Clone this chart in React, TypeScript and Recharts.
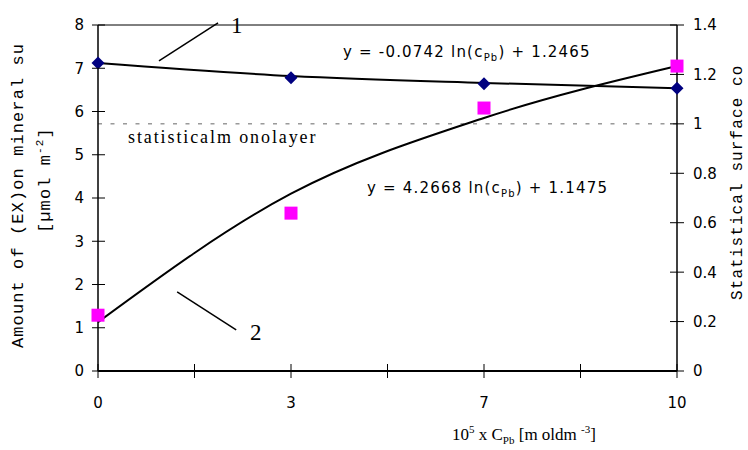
import { LineChart, Line, XAxis, YAxis, ReferenceLine } from 'recharts';

// 10^5 x C_Pb categories
const concentrations = ['0', '3', '7', '10'];
// series 1: Pb amount (diamonds) and its log fit, left axis units
const leadAmount = [7.12, 6.78, 6.64, 6.54];
const leadTrend = [7.12, 6.82, 6.66, 6.54];
// series 2: EX amount (squares) and its log fit
const exAmount = [1.29, 3.65, 6.08, 7.05];
const exTrend = [1.13, 4.1, 5.85, 7.05];

const leftTicks = [0, 1, 2, 3, 4, 5, 6, 7, 8];
const rightTicks = [0, 0.2, 0.4, 0.6, 0.8, 1, 1.2, 1.4];
const minorTicks = [0, 0.5, 1, 1.5, 2, 2.5, 3];
const monolayer = 1;

// pointer strokes for the "1" and "2" labels (category index, left axis value)
const pointer1 = [{ x: 0.316, y: 7.17 }, { x: 0.622, y: 8.05 }];
const pointer2 = [{ x: 0.41, y: 1.83 }, { x: 0.716, y: 0.95 }];

const data = concentrations.map((c, i) => ({
  c,
  idx: i,
  lead: leadAmount[i],
  leadFit: leadTrend[i],
  ex: exAmount[i],
  exFit: exTrend[i],
}));

const sans = 'DejaVu Sans';
const serif = 'Liberation Serif';
const mono = 'Liberation Mono';

const LeftTick = ({ x, y, payload }: any) => (
  <g>
    <line x1={x - 6} x2={x + 7} y1={y} y2={y} stroke="#000" strokeWidth={1} />
    <text x={x - 14} y={y} dy="0.36em" textAnchor="end" fontSize={15} fontFamily={sans} fill="#000">
      {payload.value}
    </text>
  </g>
);

const RightTick = ({ x, y, payload }: any) => (
  <g>
    <line x1={x - 7} x2={x + 7} y1={y} y2={y} stroke="#000" strokeWidth={1} />
    <text x={x + 16} y={y} dy="0.36em" textAnchor="start" fontSize={15} fontFamily={sans} fill="#000">
      {payload.value}
    </text>
  </g>
);

const BottomLabel = ({ x, y, payload }: any) => (
  <text x={x} y={y + 37} textAnchor="middle" fontSize={15} fontFamily={sans} fill="#000">
    {payload.value}
  </text>
);

const CrossTick = ({ x, y }: any) => (
  <line x1={x} x2={x} y1={y - 8} y2={y + 6} stroke="#000" strokeWidth={1} />
);

const Diamond = (p: any) =>
  p.cx == null ? null : (
    <path
      key={`d${p.index}`}
      d={`M${p.cx},${p.cy - 6.5} L${p.cx + 6.5},${p.cy} L${p.cx},${p.cy + 6.5} L${p.cx - 6.5},${p.cy} Z`}
      fill="#000080"
    />
  );

const Square = (p: any) =>
  p.cx == null ? null : (
    <rect key={`s${p.index}`} x={p.cx - 6.5} y={p.cy - 6.5} width={13} height={13} fill="#FF00FF" />
  );

export default function App() {
  return (
    <div style={{ position: 'absolute', left: 0, top: 0, width: 748, height: 450, background: '#fff' }}>
      <LineChart width={748} height={450} data={data} margin={{ top: 25, right: 0, bottom: 77, left: 0 }}>
        <XAxis
          dataKey="c"
          type="category"
          scale="point"
          height={1}
          axisLine={{ stroke: '#000', strokeWidth: 2 }}
          tickLine={false}
          tickSize={0}
          tickMargin={0}
          tick={BottomLabel}
          interval={0}
        />
        <XAxis
          xAxisId="minor"
          dataKey="idx"
          type="number"
          domain={[0, 3]}
          allowDataOverflow
          ticks={minorTicks}
          height={1}
          axisLine={false}
          tickLine={false}
          tickSize={0}
          tickMargin={0}
          tick={CrossTick}
          interval={0}
        />
        <YAxis
          yAxisId="left"
          width={98}
          domain={[0, 8]}
          allowDataOverflow
          ticks={leftTicks}
          axisLine={{ stroke: '#000', strokeWidth: 1.5 }}
          tickLine={false}
          tickSize={0}
          tickMargin={0}
          tick={LeftTick}
          interval={0}
        />
        <YAxis
          yAxisId="right"
          orientation="right"
          width={71}
          domain={[0, 1.4]}
          allowDataOverflow
          ticks={rightTicks}
          axisLine={{ stroke: '#000', strokeWidth: 1.5 }}
          tickLine={false}
          tickSize={0}
          tickMargin={0}
          tick={RightTick}
          interval={0}
        />
        <ReferenceLine yAxisId="left" y={8} stroke="#000" strokeWidth={1} />
        <ReferenceLine yAxisId="right" y={monolayer} stroke="#666" strokeWidth={1} strokeDasharray="4 8.5" />
        <ReferenceLine xAxisId="minor" yAxisId="left" segment={pointer1} stroke="#000" strokeWidth={1.5} ifOverflow="visible" />
        <ReferenceLine xAxisId="minor" yAxisId="left" segment={pointer2} stroke="#000" strokeWidth={1.5} ifOverflow="visible" />

        <Line yAxisId="left" type="monotone" dataKey="leadFit" stroke="#000" strokeWidth={2} dot={false} activeDot={false} isAnimationActive={false} />
        <Line yAxisId="left" type="monotone" dataKey="exFit" stroke="#000" strokeWidth={2} dot={false} activeDot={false} isAnimationActive={false} />
        <Line yAxisId="left" dataKey="lead" stroke="none" dot={Diamond} activeDot={false} isAnimationActive={false} />
        <Line yAxisId="left" dataKey="ex" stroke="none" dot={Square} activeDot={false} isAnimationActive={false} />
      </LineChart>

      <svg width={748} height={450} style={{ position: 'absolute', left: 0, top: 0, pointerEvents: 'none' }}>
        <text transform="translate(23,348) rotate(-90)" fontFamily={mono} fontSize={17} letterSpacing={1.1} fill="#000">
          Amount of (EX)on mineral su
        </text>
        <text transform="translate(50,233) rotate(-90)" fontFamily={mono} fontSize={17} letterSpacing={1.1} fill="#000">
          [µmol m<tspan dy={-7} fontSize={11}>-2</tspan><tspan dy={7}>]</tspan>
        </text>
        <text transform="translate(742,300) rotate(-90)" fontFamily={mono} fontSize={16} letterSpacing={1.1} fill="#000">
          Statistical surface co
        </text>

        <text x={343} y={57} fontFamily={sans} fontSize={15} letterSpacing={1.2} fill="#000">
          y =  -0.0742 ln(c<tspan dy={4} fontSize={10}>Pb</tspan><tspan dy={-4}>) +  1.2465</tspan>
        </text>
        <text x={367} y={193} fontFamily={sans} fontSize={15} letterSpacing={1.2} fill="#000">
          y =  4.2668 ln(c<tspan dy={4} fontSize={10}>Pb</tspan><tspan dy={-4}>) +  1.1475</tspan>
        </text>
        <text x={128} y={143} fontFamily={serif} fontSize={18} letterSpacing={1.9} fill="#000">
          statisticalm onolayer
        </text>
        <text x={231} y={33} fontFamily={serif} fontSize={23} fill="#000">1</text>
        <text x={250} y={340} fontFamily={serif} fontSize={23} fill="#000">2</text>

        <text x={452} y={440} fontFamily={serif} fontSize={17} fill="#000">
          10<tspan dy={-7} fontSize={11}>5</tspan>
          <tspan dy={7}> x C</tspan>
          <tspan dy={4} fontSize={11}>Pb</tspan>
          <tspan dy={-4}> [m oldm </tspan>
          <tspan dy={-7} fontSize={11}>-3</tspan>
          <tspan dy={7}>]</tspan>
        </text>
      </svg>
    </div>
  );
}
